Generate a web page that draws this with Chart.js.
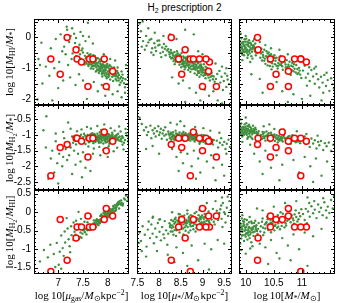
<!DOCTYPE html>
<html>
<head>
<meta charset="utf-8">
<script src="https://cdn.jsdelivr.net/npm/chart.js@4"></script>
<style>
  body { margin: 0; background: #fff; }
  #fig { position: relative; width: 339px; height: 303px; overflow: hidden; }
  #fig canvas { position: absolute; }
  .lab { position: absolute; font-family: "Liberation Serif", serif; font-size: 11px; color: #000;
         text-align: center; white-space: nowrap; height: 14px; line-height: 14px; }
  .lab sub { font-size: 70%; vertical-align: -0.3em; line-height: 0; }
  .lab sup { font-size: 70%; vertical-align: 0.5em; line-height: 0; }
  .lab sub sub { font-size: 80%; }
  .rot { transform: rotate(-90deg); }
  #title { position: absolute; left: 0; width: 369px; top: 2px; text-align: center;
           font-family: "Liberation Sans", sans-serif; font-size: 10px; }
  #title sub { font-size: 70%; vertical-align: -0.3em; line-height: 0; }
</style>
</head>
<body>
<div id="fig">
  <div id="title">H<sub>2</sub> prescription 2</div>
</div>
<script>
// observed galaxies (red circles), one entry per galaxy
const obsGas   = [6.85, 7.04, 7.18, 7.36, 7.38, 7.47, 7.60, 7.63, 7.70, 7.93, 7.97, 8.10];
const obsStar  = [8.72, 8.52, 8.28, 8.60, 8.45, 9.16, 9.32, 8.93, 9.08, 8.79, 9.00, 9.14];
const obsMass  = [10.98, 10.54, 10.21, 10.22, 10.44, 11.08, 10.44, 10.87, 10.98, 10.65, 10.76, 10.76];
const obsHI    = [-0.7, -1.2, 0.0, -0.4, -0.7, -0.8, -1.6, -0.7, -0.7, -0.7, -1.6, -1.1];
const obsH2    = [-2.3, -1.4, -1.3, -1.1, -1.1, -1.2, -1.7, -1.1, -1.1, -0.9, -1.5, -1.2];
const obsRatio = [-1.6, -0.2, -1.3, -0.7, -0.4, -0.4, -0.1, -0.4, -0.4, -0.2, 0.1, -0.1];

// model galaxies (green dots), x,y pairs read per panel
const modelGasHI = [
  7.63,-0.71, 7.81,-0.93, 7.47,-0.42, 8.02,-1.21, 7.92,-0.80, 7.71,-1.02, 8.14,-1.07, 7.56,-0.68, 7.88,-1.19, 8.07,-0.95,
  7.74,-0.60, 7.98,-1.33, 7.67,-0.88, 8.21,-1.31, 7.84,-0.72, 7.59,-0.51, 8.11,-1.42, 7.95,-1.04, 7.78,-0.83, 8.04,-1.13,
  7.52,-0.77, 7.86,-1.08, 8.18,-1.18, 7.69,-0.64, 7.93,-0.91, 8.09,-1.28, 7.76,-1.11, 7.61,-0.93, 8.26,-1.47, 7.83,-0.99,
  7.99,-0.86, 7.72,-0.79, 8.13,-0.98, 7.89,-1.27, 7.65,-0.55, 8.05,-1.37, 7.80,-0.68, 7.96,-1.15, 8.23,-1.22, 7.57,-0.85,
  7.91,-1.06, 7.70,-0.92, 8.00,-0.97, 8.16,-1.35, 7.85,-0.85, 7.62,-0.79, 8.08,-1.09, 7.77,-0.97, 7.94,-1.23, 8.31,-1.33,
  7.54,-0.60, 7.87,-0.94, 8.03,-1.02, 7.73,-0.71, 7.97,-0.99, 8.19,-1.09, 7.66,-1.01, 7.82,-1.16, 8.12,-1.23, 7.90,-0.87,
  7.60,-0.66, 8.06,-1.16, 7.79,-0.90, 8.27,-1.29, 7.95,-0.78, 7.68,-0.75, 7.84,-1.03, 8.10,-1.03, 7.75,-0.86, 8.01,-1.10,
  7.58,-0.73, 7.92,-1.11, 8.17,-1.26, 7.71,-0.58, 7.86,-0.77, 8.04,-0.90, 7.64,-0.87, 7.99,-1.20, 8.22,-1.40, 7.81,-1.06,
  7.50,-0.49, 7.97,-0.92, 8.33,-1.49, 7.89,-0.99, 7.76,-0.75, 8.15,-1.14, 7.53,-0.88, 8.36,-1.36, 7.44,-0.55, 7.41,-0.33,
  7.46,-0.70, 7.39,-0.48, 7.49,-0.36, 7.36,-0.61, 7.43,-0.24, 8.39,-1.52, 8.28,-1.11, 8.41,-1.28, 8.35,-1.62, 8.24,-1.55,
  8.20,-0.98, 8.30,-1.21, 7.32,-0.41, 7.34,-0.18, 7.29,-0.52,
  7.74,-0.82, 7.88,-0.90, 8.03,-1.25, 7.66,-0.71, 7.92,-1.17, 8.12,-1.11, 7.79,-1.04, 7.57,-0.64, 8.18,-1.40, 7.85,-0.95,
  7.70,-0.85, 7.96,-1.08, 8.07,-1.03, 7.62,-0.58, 7.83,-0.78, 8.21,-1.16, 7.93,-0.97, 7.77,-0.68, 8.00,-1.17, 7.68,-0.95,
  8.14,-1.26, 7.89,-1.13, 7.55,-0.81, 7.98,-0.89, 8.09,-1.18, 7.73,-0.93, 7.87,-1.01, 8.25,-1.34, 7.64,-0.66, 7.94,-1.05,
  7.81,-0.82, 8.05,-1.08, 7.71,-0.70, 7.91,-0.92, 8.16,-1.21, 7.59,-0.77, 8.01,-1.29, 7.84,-1.10, 7.75,-0.91, 8.11,-1.00,
  7.97,-1.27, 7.67,-0.82, 8.29,-1.41, 7.86,-0.89, 8.02,-0.94, 7.78,-1.08, 7.90,-0.74, 8.20,-1.27, 7.61,-0.87, 7.95,-0.94,
  6.95,-0.05, 7.05,0.10, 7.12,-0.30, 7.18,0.25, 7.22,-0.15, 7.25,0.05, 7.28,0.30, 7.32,0.12, 7.36,-0.02, 7.45,0.18,
  7.50,0.05, 7.55,-0.12, 7.62,0.02, 7.70,-0.20, 7.15,-0.55, 7.08,-0.45, 6.85,-0.35, 7.17,0.35, 7.60,0.48, 6.66,-0.17,
  6.60,-0.70, 6.68,-1.50, 6.75,-0.95, 6.82,-1.25, 6.88,-2.05, 6.92,-1.00, 7.00,-1.65, 7.02,-0.80, 7.10,-1.40, 7.20,-0.90,
  7.24,-1.30, 7.27,-0.70, 6.63,-0.90, 6.58,-2.02,
  7.35,-1.55, 7.42,-1.20, 7.50,-1.40, 7.58,-2.00, 7.65,-1.60, 7.72,-1.45, 7.80,-1.75, 7.88,-1.55, 7.95,-1.90, 8.02,-1.70,
  8.10,-1.85, 8.20,-1.75, 8.28,-1.95, 8.35,-1.80, 8.41,-1.10, 8.43,-0.95, 8.37,-0.90, 8.15,-0.75, 8.05,-0.70, 7.92,-0.55
];
const modelStarHI = [
  8.63,-0.84, 8.27,-0.41, 8.91,-1.12, 8.45,-0.72, 9.07,-0.95, 8.38,-0.58, 8.79,-1.03, 8.52,-0.51, 9.14,-1.31, 8.71,-0.70,
  8.33,-0.77, 8.96,-0.88, 8.58,-0.95, 9.02,-1.25, 8.24,-0.55, 8.85,-0.79, 8.47,-0.89, 9.19,-1.09, 8.66,-0.62, 8.41,-0.45,
  8.93,-1.28, 8.76,-0.91, 8.30,-0.66, 9.09,-1.14, 8.55,-0.74, 8.88,-1.01, 8.36,-0.87, 9.24,-1.36, 8.69,-0.99, 8.50,-0.61,
  8.98,-0.97, 8.21,-0.38, 8.82,-1.17, 8.61,-0.69, 9.11,-1.02, 8.44,-0.80, 8.74,-0.76, 9.05,-1.19, 8.29,-0.50, 8.90,-0.84,
  8.57,-0.86, 9.16,-1.21, 8.67,-1.06, 8.39,-0.68, 8.95,-1.07, 8.78,-0.68, 8.48,-0.56, 9.21,-1.15, 8.60,-0.92, 8.86,-0.95,
  8.32,-0.59, 9.03,-0.87, 8.72,-1.12, 8.54,-0.83, 8.97,-1.21, 8.25,-0.63, 8.83,-0.88, 8.43,-0.52, 9.13,-1.09, 8.65,-0.77,
  8.92,-0.98, 8.35,-0.48, 9.07,-1.33, 8.77,-0.83, 8.51,-0.97, 8.99,-1.03, 8.62,-0.65, 8.87,-1.22, 8.46,-0.66, 9.26,-1.27,
  8.70,-0.88, 9.00,-1.14, 8.56,-0.62, 8.80,-0.97, 8.37,-0.73, 9.17,-1.40, 8.68,-0.73, 8.94,-0.91, 8.42,-0.61, 9.10,-1.18,
  8.59,-1.04, 8.84,-0.72, 8.28,-0.69, 9.04,-1.05, 8.73,-0.95, 8.49,-0.77, 8.89,-1.09, 8.64,-0.90, 9.22,-1.25, 8.81,-0.86,
  8.62,-0.74, 8.81,-1.00, 8.47,-0.64, 8.95,-0.99, 8.33,-0.69, 8.73,-0.82, 9.04,-1.14, 8.56,-0.93, 8.89,-0.81, 8.40,-0.56,
  8.68,-0.91, 9.12,-1.23, 8.51,-0.72, 8.84,-1.05, 8.26,-0.49, 8.77,-0.73, 9.01,-0.99, 8.59,-0.80, 8.93,-1.15, 8.44,-0.69,
  8.70,-1.00, 9.08,-1.07, 8.36,-0.63, 8.86,-0.90, 8.64,-0.69, 8.98,-1.12, 8.53,-0.87, 9.15,-1.17, 8.79,-0.93, 8.31,-0.53,
  8.66,-0.83, 8.91,-0.96, 8.48,-0.81, 9.06,-1.22, 8.75,-1.04, 8.57,-0.66, 8.97,-0.93, 8.22,-0.47, 8.83,-0.98, 9.19,-1.28,
  8.61,-0.97, 8.45,-0.59, 8.90,-1.16, 8.72,-0.78, 9.10,-0.99, 8.38,-0.79, 8.80,-0.86, 8.55,-0.79, 9.00,-1.07, 8.67,-0.92,
  7.63,-0.12, 7.71,-0.27, 7.78,-0.08, 7.84,-0.35, 7.89,-0.19, 7.93,-0.44, 7.98,-0.26, 8.03,-0.51, 8.07,-0.33, 8.11,-0.21,
  8.15,-0.58, 8.18,-0.42, 7.67,-0.40, 7.75,-0.16, 7.82,-0.49, 7.96,-0.11, 8.05,-0.64, 8.13,-0.37, 8.01,-0.24, 7.87,-0.57,
  7.60,-0.30, 8.09,-0.47, 8.16,-0.29, 7.91,-0.33,
  9.31,-1.35, 9.36,-1.58, 9.34,-1.19, 9.41,-1.47, 9.44,-1.28, 9.47,-1.71, 9.49,-1.42, 9.52,-1.17, 9.55,-1.61, 9.58,-1.37,
  9.61,-1.52, 9.64,-1.83, 9.66,-1.45, 9.39,-1.09, 9.28,-1.44, 9.57,-1.25,
  7.55,0.45, 7.58,0.20, 7.62,0.52, 7.70,0.05, 7.75,0.30, 7.82,-0.05, 7.90,0.15, 8.00,-0.10, 8.10,0.05, 8.25,0.10,
  8.40,-0.05, 8.60,0.25, 8.80,0.10,
  8.30,-1.30, 8.45,-1.50, 8.55,-1.40, 8.70,-1.65, 8.85,-1.80, 8.95,-2.05, 9.05,-1.70, 9.15,-1.90, 9.25,-1.75, 9.35,-2.05,
  9.45,-2.15, 8.60,-2.10,
  9.00,-0.55, 9.15,-0.70, 9.30,-0.85, 9.45,-0.95, 9.55,-1.00, 8.90,-0.45
];
const modelMassHI = [
  9.91,-0.27, 10.03,-0.14, 9.95,-0.41, 10.12,-0.33, 9.89,-0.19, 10.07,-0.52, 9.98,-0.06, 10.16,-0.44, 9.93,-0.35, 10.01,-0.23,
  10.10,-0.61, 9.97,-0.48, 10.05,-0.29, 9.90,-0.12, 10.14,-0.25, 10.02,-0.39, 9.94,-0.56, 10.19,-0.37, 10.08,-0.17, 9.99,-0.31,
  10.11,-0.47, 9.92,-0.03, 10.04,-0.57, 10.17,-0.20, 9.96,-0.22, 10.09,-0.36, 10.00,-0.45, 10.13,-0.12, 9.90,-0.42, 10.06,-0.09,
  10.21,-0.51, 9.95,-0.15, 10.03,-0.66, 10.15,-0.31, 9.98,-0.38, 10.10,-0.24, 9.93,-0.50, 10.18,-0.58, 10.01,-0.04, 10.07,-0.41,
  10.23,-0.34, 9.89,-0.33, 10.12,-0.69, 9.97,-0.27, 10.05,-0.18, 10.20,-0.43, 9.91,0.12, 10.00,0.05, 9.94,-0.74, 10.08,-0.80,
  9.92,-0.37, 10.04,-0.24, 9.96,-0.45, 10.11,-0.39, 9.90,-0.25, 10.06,-0.46, 9.99,-0.14, 10.15,-0.37, 9.94,-0.30, 10.02,-0.50,
  10.09,-0.20, 9.97,-0.58, 10.13,-0.28, 10.00,-0.34, 9.93,-0.18, 10.18,-0.49, 10.07,-0.30, 9.91,-0.48, 10.22,-0.41, 10.03,-0.43,
  10.27,-0.52, 10.44,-0.71, 10.33,-0.40, 10.58,-0.92, 10.38,-0.63, 10.69,-0.81, 10.29,-0.75, 10.51,-0.58, 10.82,-1.07, 10.41,-0.49,
  10.63,-0.71, 10.35,-0.86, 10.74,-0.96, 10.47,-0.84, 10.92,-1.03, 10.55,-0.66, 10.31,-0.57, 10.66,-1.05, 10.86,-0.87, 10.43,-0.93,
  10.78,-0.79, 10.53,-0.76, 10.97,-1.21, 10.37,-0.45, 10.61,-0.88, 10.89,-1.14, 10.49,-0.62, 10.72,-1.13, 10.26,-0.66, 10.57,-1.01,
  10.84,-0.95, 10.40,-0.78, 10.68,-0.69, 10.95,-0.99, 10.46,-1.04, 10.80,-1.22, 10.34,-0.69, 10.64,-0.83, 10.99,-1.32, 10.52,-0.87,
  10.76,-0.89, 10.30,-0.48, 10.59,-0.73, 10.87,-1.02, 10.45,-0.55, 10.71,-0.98, 10.94,-1.16, 10.39,-0.91, 10.62,-0.60, 10.83,-0.83,
  10.56,-1.12, 10.77,-1.04, 10.48,-0.95, 10.90,-0.90, 10.65,-0.94, 10.28,-0.37, 10.73,-0.74, 10.42,-0.58,
  10.36,-0.61, 10.52,-0.67, 10.44,-0.80, 10.63,-0.90, 10.31,-0.64, 10.71,-0.88, 10.48,-0.70, 10.85,-1.10, 10.58,-0.83, 10.39,-0.52,
  10.77,-0.95, 10.92,-1.19, 10.55,-0.92, 10.67,-0.77, 10.33,-0.76, 10.81,-0.92, 10.47,-0.75, 10.96,-1.08, 10.60,-0.64, 10.74,-1.03,
  11.02,-1.08, 11.07,-1.31, 11.05,-0.92, 11.11,-1.18, 11.14,-1.42, 11.17,-1.06, 11.20,-1.27, 11.23,-1.51, 11.26,-1.19, 11.29,-1.36,
  11.31,-1.63, 11.34,-1.28, 11.37,-1.47, 11.40,-1.22, 11.43,-1.58, 11.46,-1.39, 11.49,-1.74, 11.52,-1.33, 11.55,-1.52, 11.57,-1.66,
  11.09,-1.57, 11.22,-1.01, 11.38,-1.80, 11.13,-0.97, 11.44,-1.15,
  10.25,-0.15, 10.35,-0.25, 10.45,-0.35, 10.60,-0.40, 10.75,-0.55, 10.90,-0.65, 11.05,-0.80, 11.25,-0.95, 10.15,-0.05,
  10.10,-1.20, 10.25,-1.35, 10.40,-1.55, 10.55,-1.45, 10.65,-1.75, 10.85,-1.85, 11.00,-2.00, 11.15,-1.90, 11.35,-2.05, 10.75,-2.10,
  10.30,-1.80
];
const modelGasH2 = [
  7.63,-1.07, 7.81,-1.19, 7.52,-0.96, 8.04,-1.12, 7.92,-0.98, 7.71,-1.26, 8.15,-1.03, 7.58,-1.15, 7.88,-1.09, 8.09,-0.93,
  7.74,-0.99, 7.99,-1.22, 7.67,-1.11, 8.22,-1.17, 7.84,-0.91, 7.55,-1.29, 8.12,-1.08, 7.95,-1.14, 7.78,-1.05, 8.01,-0.97,
  7.49,-1.18, 7.86,-1.24, 8.18,-1.00, 7.69,-0.94, 7.93,-1.16, 8.07,-1.21, 7.76,-1.13, 7.61,-1.03, 8.27,-1.12, 7.83,-1.02,
  7.97,-1.06, 7.72,-1.17, 8.13,-1.25, 7.89,-0.95, 7.65,-1.20, 8.05,-1.05, 7.80,-1.10, 7.96,-0.90, 8.24,-1.05, 7.57,-1.06,
  7.91,-1.27, 7.70,-1.00, 8.00,-1.13, 8.16,-1.18, 7.85,-1.07, 7.62,-1.23, 8.08,-1.01, 7.77,-1.18, 7.94,-1.03, 8.31,-1.09,
  7.54,-1.02, 7.87,-1.15, 8.03,-1.28, 7.73,-1.08, 7.98,-1.00, 8.19,-1.11, 7.66,-0.97, 7.82,-1.25, 8.11,-1.14, 7.90,-1.04,
  7.60,-1.14, 8.06,-1.08, 7.79,-0.96, 8.28,-1.21, 7.95,-1.19, 7.68,-1.09, 7.84,-1.13, 8.10,-0.99, 7.75,-1.22, 8.02,-1.04,
  7.59,-1.00, 7.92,-1.10, 8.17,-1.06, 7.71,-1.04, 7.86,-1.00, 8.04,-1.17, 7.64,-1.13, 7.99,-1.09, 8.21,-0.96, 7.81,-1.03,
  8.35,-1.16, 8.39,-1.02, 8.33,-1.25, 8.42,-1.10, 8.37,-0.94, 8.26,-0.89, 8.30,-1.31, 8.41,-1.20, 7.50,-1.07, 7.46,-0.99,
  7.68,-1.13, 7.82,-1.06, 7.95,-1.01, 8.08,-1.14, 7.75,-1.03, 7.89,-1.18, 8.14,-1.09, 7.60,-1.08, 8.01,-1.19, 7.79,-1.12,
  7.93,-1.07, 8.20,-1.14, 7.71,-1.11, 7.86,-0.98, 8.05,-1.10, 7.64,-1.00, 7.98,-1.14, 8.17,-1.02, 7.80,-1.16, 8.10,-1.06,
  7.73,-0.97, 7.91,-1.02, 8.03,-0.99, 7.66,-1.16, 8.25,-1.18, 7.85,-1.10, 7.96,-1.24, 8.12,-1.17, 7.77,-1.07, 8.29,-1.04,
  7.56,-1.12, 7.88,-1.05, 8.07,-1.09, 7.70,-1.20, 7.97,-1.11, 8.18,-1.12, 7.83,-1.21, 8.00,-1.06, 7.62,-1.05, 8.22,-1.08,
  7.47,-0.82, 7.58,-0.74, 7.66,-0.79, 7.79,-0.71, 7.87,-0.84, 7.93,-0.66, 8.06,-0.78, 8.14,-0.86, 8.23,-0.73, 8.36,-0.81,
  7.72,-1.43, 7.83,-1.38, 7.91,-1.47, 8.02,-1.36, 8.12,-1.52, 8.19,-1.41, 8.32,-1.46, 7.61,-1.37,
  7.35,-1.10, 7.38,-0.88, 7.36,-1.30, 7.42,-1.22, 7.44,-1.04,
  7.30,-1.25, 7.32,-1.50, 7.28,-1.05, 7.25,-1.40, 7.22,-1.65, 7.20,-1.30, 7.18,-1.80, 7.15,-1.45, 7.12,-1.10, 7.10,-1.70,
  7.08,-2.00, 7.05,-1.35, 7.02,-1.60, 6.98,-1.90, 6.95,-1.20, 6.92,-2.20, 6.88,-1.50, 6.85,-1.75, 6.80,-2.40, 6.75,-1.40,
  6.70,-0.85, 6.76,-0.40, 7.40,-1.60, 7.45,-1.85, 7.50,-1.55, 7.55,-2.05, 7.35,-1.95, 7.28,-2.25, 7.60,-1.75, 7.65,-2.15,
  7.48,-2.35, 7.70,-1.60, 7.85,-1.65, 8.00,-1.70, 7.00,-2.55, 6.95,-0.95, 7.10,-0.90, 7.25,-0.80, 7.20,-0.60
];
const modelStarH2 = [
  8.63,-1.04, 8.27,-0.93, 8.91,-1.17, 8.45,-1.09, 9.07,-1.08, 8.38,-0.86, 8.79,-1.14, 8.52,-0.97, 9.14,-1.26, 8.71,-1.01,
  8.33,-1.12, 8.96,-1.05, 8.58,-1.19, 9.02,-1.22, 8.24,-1.02, 8.85,-0.99, 8.47,-0.92, 9.19,-1.13, 8.66,-1.11, 8.41,-1.01,
  8.93,-1.28, 8.76,-0.94, 8.30,-0.98, 9.09,-1.16, 8.55,-1.05, 8.88,-1.09, 8.36,-1.17, 9.24,-1.30, 8.69,-0.96, 8.50,-1.13,
  8.98,-1.00, 8.21,-0.89, 8.82,-1.21, 8.61,-0.94, 9.11,-1.04, 8.44,-0.99, 8.74,-1.07, 9.05,-1.19, 8.29,-1.07, 8.90,-1.03,
  8.57,-1.01, 9.16,-1.18, 8.67,-1.16, 8.39,-0.95, 8.95,-1.12, 8.78,-1.02, 8.48,-1.06, 9.21,-1.24, 8.60,-1.08, 8.86,-1.14,
  8.32,-0.91, 9.03,-1.01, 8.72,-1.18, 8.54,-0.95, 8.97,-1.20, 8.25,-1.10, 8.83,-1.06, 8.43,-1.14, 9.13,-1.12, 8.65,-0.99,
  8.92,-1.07, 8.35,-1.03, 9.07,-1.27, 8.77,-1.10, 8.51,-1.16, 8.99,-1.09, 8.62,-1.12, 8.87,-0.97, 8.46,-1.03, 9.26,-1.16,
  8.70,-1.05, 9.00,-1.15, 8.56,-0.90, 8.80,-1.08, 8.37,-1.06, 9.17,-1.07, 8.68,-1.03, 8.94,-1.23, 8.42,-0.97, 9.10,-1.21,
  8.59,-1.13, 8.84,-1.11, 8.28,-1.15, 9.04,-1.11, 8.73,-0.98,
  8.64,-1.08, 8.81,-1.13, 8.47,-1.00, 8.95,-1.08, 8.33,-1.00, 8.73,-1.03, 9.04,-1.15, 8.56,-1.10, 8.89,-1.12, 8.40,-1.07,
  8.68,-1.09, 9.12,-1.16, 8.51,-1.04, 8.84,-1.03, 8.26,-0.97, 8.77,-1.14, 9.01,-1.09, 8.59,-0.98, 8.93,-1.14, 8.44,-1.10,
  8.70,-1.12, 9.08,-1.03, 8.36,-1.09, 8.86,-1.06, 8.62,-1.05, 8.98,-1.15, 8.53,-1.01, 9.15,-1.09, 8.79,-1.06, 8.31,-1.04,
  8.66,-1.06, 8.91,-1.11, 8.48,-1.11, 9.06,-1.13, 8.75,-1.12, 8.57,-1.07, 8.97,-1.03, 8.22,-0.96, 8.83,-1.16, 9.19,-1.20,
  7.55,-0.45, 7.60,-0.65, 7.65,-0.85, 7.70,-0.75, 7.72,-1.00, 7.75,-0.90, 7.80,-0.70, 7.82,-1.10, 7.85,-0.85, 7.88,-0.95,
  7.90,-0.78, 7.92,-1.05, 7.95,-0.88, 7.98,-0.72, 8.00,-1.00, 8.02,-0.92, 8.04,-0.80, 8.06,-1.12, 8.08,-0.95, 8.10,-0.85,
  8.12,-1.02, 8.14,-0.75, 8.16,-0.98, 8.18,-1.15, 7.70,-1.45, 7.85,-1.35, 8.00,-1.60,
  9.33,-1.18, 9.36,-1.40, 9.40,-1.25, 9.43,-1.10, 9.46,-1.32, 9.50,-1.22, 9.53,-1.45, 9.56,-1.28, 9.60,-1.15, 9.63,-1.38,
  8.41,-0.66, 8.58,-0.71, 8.83,-0.74, 9.02,-0.78, 9.18,-0.86, 9.39,-0.93, 8.26,-0.61, 8.49,-0.56,
  8.30,-1.45, 8.40,-1.70, 8.50,-1.55, 8.55,-1.90, 8.65,-1.60, 8.75,-2.00, 8.80,-1.50, 8.90,-1.75, 8.95,-2.20, 9.05,-1.55,
  9.10,-1.85, 9.20,-1.65, 9.25,-2.05, 9.35,-1.75, 9.45,-1.95, 9.50,-2.30, 9.55,-1.60, 8.85,-2.40, 9.30,-2.45, 8.45,-2.15
];
const modelMassH2 = [
  9.91,-0.83, 10.03,-0.71, 9.95,-0.97, 10.12,-0.89, 9.89,-0.76, 10.07,-1.04, 9.98,-0.66, 10.16,-0.94, 9.93,-0.88, 10.01,-0.79,
  10.10,-1.08, 9.97,-0.99, 10.05,-0.84, 9.90,-0.69, 10.14,-0.81, 10.02,-0.92, 9.94,-1.05, 10.19,-0.90, 10.08,-0.74, 9.99,-0.86,
  10.11,-0.98, 9.92,-0.63, 10.04,-1.07, 10.17,-0.77, 9.96,-0.80, 10.09,-0.91, 10.00,-0.95, 10.13,-0.70, 9.90,-0.93, 10.06,-0.67,
  10.21,-1.01, 9.95,-0.74, 10.03,-1.12, 10.15,-0.85, 9.98,-0.90, 10.10,-0.79, 9.93,-1.00, 10.18,-1.06, 10.01,-0.62, 10.07,-0.93,
  10.23,-0.88, 9.89,-0.89, 10.12,-1.13, 9.97,-0.82, 10.05,-0.73, 10.20,-0.96, 9.91,-0.50, 10.00,-0.44, 9.94,-1.22, 10.08,-1.31,
  9.92,-0.87, 10.04,-0.81, 9.96,-0.92, 10.11,-0.86, 9.90,-0.80, 10.06,-0.96, 9.99,-0.74, 10.15,-0.89, 9.94,-0.84, 10.02,-0.99,
  10.09,-0.83, 9.97,-0.91, 10.13,-0.93, 10.00,-0.83, 9.93,-0.77, 10.18,-0.82, 10.07,-0.88, 9.91,-0.96, 10.22,-0.94, 10.03,-0.87,
  10.27,-1.00, 10.44,-1.07, 10.33,-0.92, 10.58,-1.15, 10.38,-1.04, 10.69,-1.09, 10.29,-1.12, 10.51,-0.98, 10.82,-1.19, 10.41,-0.94,
  10.63,-1.06, 10.35,-1.18, 10.74,-1.14, 10.47,-1.11, 10.92,-1.16, 10.55,-1.01, 10.31,-0.97, 10.66,-1.21, 10.86,-1.07, 10.43,-1.20,
  10.78,-1.03, 10.53,-1.08, 10.97,-1.26, 10.37,-0.89, 10.61,-1.13, 10.89,-1.23, 10.49,-1.02, 10.72,-1.25, 10.26,-1.08, 10.57,-1.24,
  10.84,-1.12, 10.40,-1.13, 10.68,-1.00, 10.95,-1.09, 10.46,-0.99, 10.80,-1.28, 10.34,-1.05, 10.64,-1.17, 10.99,-1.15, 10.52,-1.19,
  10.76,-1.05, 10.30,-0.90, 10.59,-1.03, 10.87,-1.18, 10.45,-0.93, 10.71,-1.11, 10.94,-1.20, 10.39,-1.16, 10.62,-0.96, 10.83,-1.01,
  10.56,-1.12, 10.77,-1.20, 10.48,-1.06, 10.90,-1.10, 10.65,-1.10,
  10.36,-1.02, 10.52,-1.05, 10.44,-1.13, 10.63,-1.11, 10.31,-1.05, 10.71,-1.16, 10.48,-1.09, 10.85,-1.14, 10.58,-1.07, 10.39,-0.98,
  10.77,-1.15, 10.92,-1.21, 10.55,-1.12, 10.67,-1.03, 10.33,-1.10, 10.81,-1.09, 10.47,-1.02, 10.96,-1.13, 10.60,-1.18, 10.74,-1.08,
  11.02,-1.14, 11.07,-1.29, 11.05,-1.05, 11.11,-1.21, 11.14,-1.38, 11.17,-1.11, 11.20,-1.27, 11.23,-1.17, 11.26,-1.43, 11.29,-1.22,
  11.31,-1.33, 11.34,-1.19, 11.38,-1.48, 11.41,-1.26, 11.44,-1.36, 11.48,-1.24, 11.52,-1.51, 11.56,-1.31,
  10.32,-0.72, 10.51,-0.81, 10.68,-0.83, 10.91,-0.88, 11.08,-0.97, 11.28,-1.02, 10.42,-0.66,
  10.15,-1.60, 10.25,-1.85, 10.35,-1.50, 10.45,-2.05, 10.55,-1.65, 10.65,-1.95, 10.75,-1.55, 10.85,-1.80, 10.95,-2.20, 11.05,-1.70,
  11.15,-2.00, 11.25,-1.75, 11.35,-2.30, 11.45,-1.85, 11.55,-2.10, 10.60,-2.45, 11.20,-2.50, 10.30,-2.25
];
const modelGasRatio = [
  7.63,-0.43, 7.81,-0.31, 7.52,-0.49, 8.04,-0.04, 7.92,-0.03, 7.71,-0.37, 8.15,0.03, 7.58,-0.46, 7.88,-0.09, 8.09,-0.01,
  7.74,-0.33, 7.99,0.07, 7.67,-0.47, 8.22,0.23, 7.84,-0.24, 7.55,-0.45, 8.12,0.03, 7.95,-0.08, 7.78,-0.19, 8.01,-0.13,
  7.49,-0.58, 7.86,-0.26, 8.18,0.21, 7.69,-0.41, 7.93,-0.02, 8.07,0.01, 7.76,-0.39, 7.61,-0.43, 8.27,0.32, 7.83,-0.28,
  7.97,-0.09, 7.72,-0.22, 8.13,0.01, 7.89,-0.12, 7.65,-0.45, 8.05,0.08, 7.80,-0.31, 7.96,-0.07, 8.24,0.30, 7.57,-0.60,
  7.91,-0.13, 7.70,-0.43, 8.00,0.02, 8.16,0.09, 7.85,-0.10, 7.62,-0.47, 8.08,-0.05, 7.77,-0.26, 7.94,-0.03, 8.31,0.23,
  7.54,-0.54, 7.87,-0.06, 8.03,-0.09, 7.73,-0.29, 7.98,-0.10, 8.19,0.23, 7.66,-0.45, 7.82,-0.22, 8.11,0.16, 7.90,-0.25,
  7.60,-0.46, 8.06,-0.05, 7.79,-0.21, 8.28,0.21, 7.95,0.00, 7.68,-0.40, 7.84,-0.30, 8.10,0.09, 7.75,-0.23, 8.02,-0.08,
  7.59,-0.49, 7.92,-0.01, 8.17,0.06, 7.71,-0.31, 7.86,-0.22, 8.04,0.07, 7.64,-0.48, 7.99,-0.04, 8.21,0.27, 7.81,-0.35,
  8.35,0.34, 8.39,0.30, 8.33,0.37, 8.42,0.36, 8.37,0.45, 8.26,0.21, 8.30,0.18, 8.41,0.42, 7.45,-0.55, 7.42,-0.72,
  7.38,-0.71, 7.35,-0.61, 7.47,-0.69, 7.33,-0.71, 7.44,-0.67, 7.51,-0.49, 7.40,-0.73, 7.31,-0.75, 8.14,0.19, 8.23,0.10,
  7.66,-0.40, 7.74,-0.31, 7.82,-0.24, 7.90,-0.14, 7.98,-0.06, 8.06,0.03, 8.14,0.12, 7.70,-0.36, 7.78,-0.25, 7.86,-0.19,
  7.94,-0.10, 8.02,0.00, 8.10,0.06, 8.18,0.14, 7.68,-0.38, 7.76,-0.32, 7.84,-0.21, 7.92,-0.11, 8.00,-0.03, 8.08,0.07,
  8.16,0.13, 8.24,0.24, 7.72,-0.35, 7.80,-0.23, 7.88,-0.17, 7.96,-0.04, 8.04,0.02, 8.12,0.10, 8.20,0.19, 8.28,0.26,
  6.71,-1.02, 6.79,-1.22, 6.84,-0.88, 6.91,-1.13, 6.97,-0.83, 7.03,-1.07, 7.06,-0.63, 7.09,-0.97, 7.13,-0.52, 7.14,-0.82,
  7.19,-0.44, 7.21,-0.73, 7.23,-0.92, 7.26,-0.38, 7.27,-0.62, 7.31,-0.28, 7.33,-0.53, 7.36,-0.23, 7.37,-0.47, 7.43,-0.33,
  7.46,-0.18, 7.49,-0.40, 7.53,-0.26, 7.56,-0.14, 7.59,-0.27, 7.66,-0.11, 7.11,-1.18, 7.01,-1.42, 7.24,-1.08, 6.94,-1.48,
  7.06,-1.53, 6.63,-1.33, 7.17,-0.16, 7.41,0.01
];
const modelStarRatio = [
  8.63,-0.21, 8.27,-0.52, 8.91,-0.08, 8.45,-0.37, 9.07,-0.31, 8.38,-0.15, 8.79,-0.46, 8.52,-0.28, 9.14,0.02, 8.71,-0.33,
  8.33,-0.61, 8.96,-0.19, 8.58,-0.09, 9.02,-0.42, 8.24,-0.30, 8.85,-0.25, 8.47,-0.55, 9.19,-0.14, 8.66,-0.40, 8.41,-0.22,
  8.93,0.06, 8.76,-0.18, 8.30,-0.36, 9.09,-0.23, 8.55,-0.44, 8.88,-0.35, 8.36,-0.48, 9.24,0.09, 8.69,-0.12, 8.50,-0.31,
  8.98,-0.27, 8.21,-0.58, 8.82,-0.03, 8.61,-0.50, 9.11,-0.11, 8.44,-0.26, 8.74,-0.29, 9.05,-0.05, 8.29,-0.43, 8.90,-0.39,
  8.57,-0.17, 9.16,-0.28, 8.67,-0.24, 8.39,-0.64, 8.95,-0.13, 8.78,-0.37, 8.48,-0.06, 9.21,-0.20, 8.60,-0.29, 8.86,0.01,
  8.32,-0.24, 9.03,-0.18, 8.72,-0.49, 8.54,-0.20, 8.97,-0.33, 8.25,-0.40, 8.83,-0.21, 8.43,-0.45, 9.13,-0.35, 8.65,-0.04,
  8.92,-0.24, 8.35,-0.31, 9.07,0.11, 8.77,-0.27, 8.51,-0.39, 8.99,-0.09, 8.62,-0.36, 8.87,-0.16, 8.46,-0.14, 9.26,-0.26,
  8.70,-0.20, 9.00,-0.37, 8.56,-0.60, 8.80,-0.31, 8.37,-0.27, 9.17,-0.07, 8.68,-0.55, 8.94,-0.44, 8.42,-0.33, 9.10,-0.16,
  8.59,-0.25, 8.84,-0.52, 8.28,-0.21, 9.04,-0.26, 8.73,-0.08, 9.30,-0.12, 9.33,0.04, 9.36,-0.21, 9.28,-0.33, 9.39,-0.02,
  8.64,-0.30, 8.81,-0.14, 8.47,-0.29, 8.95,-0.30, 8.33,-0.40, 8.73,-0.38, 9.04,-0.13, 8.56,-0.33, 8.89,-0.20, 8.40,-0.49,
  8.68,-0.16, 9.12,-0.22, 8.51,-0.45, 8.84,-0.33, 8.26,-0.35, 8.77,-0.10, 9.01,-0.29, 8.59,-0.41, 8.93,-0.17, 8.44,-0.35,
  8.70,-0.27, 9.08,-0.36, 8.36,-0.19, 8.86,-0.43, 8.62,-0.26, 8.98,-0.14, 8.53,-0.11, 9.15,-0.24, 8.79,-0.22, 8.31,-0.52,
  7.55,-0.55, 7.62,-0.38, 7.58,-0.78, 7.67,-0.61, 7.71,-0.93, 7.74,-0.47, 7.79,-0.70, 7.82,-0.33, 7.85,-0.58, 7.88,-0.84,
  7.91,-0.44, 7.94,-0.67, 7.97,-0.29, 8.01,-0.53, 8.04,-0.76, 8.07,-0.40, 8.10,-0.60, 8.13,-0.24, 8.16,-0.49, 8.19,-0.88,
  8.02,-0.19, 7.86,-0.12, 7.53,-0.83, 8.12,-0.70, 7.76,-0.25,
  9.41,0.08, 9.44,-0.18, 9.47,0.25, 9.50,0.00, 9.53,-0.28, 9.56,0.12, 9.59,-0.10, 9.62,0.30, 9.65,0.05, 9.46,-0.40,
  9.58,0.42, 9.43,0.18, 9.52,-0.05,
  8.45,-0.05, 8.65,0.05, 8.95,0.15, 9.10,0.25, 9.30,0.30, 9.45,0.40, 8.30,0.00, 8.00,-0.20, 7.85,-0.15,
  7.70,-1.20, 7.95,-1.05, 8.20,-1.15, 8.40,-0.95, 8.55,-1.10, 8.75,-0.90, 8.90,-1.30, 9.05,-0.85, 9.20,-1.00, 9.35,-0.75,
  9.50,-0.85, 8.65,-1.45, 9.15,-1.55, 8.35,-1.35, 7.60,-1.05
];
const modelMassRatio = [
  9.91,-0.47, 10.03,-0.33, 9.95,-0.62, 10.12,-0.41, 9.89,-0.28, 10.07,-0.70, 9.98,-0.19, 10.16,-0.52, 9.93,-0.39, 10.01,-0.57,
  10.10,-0.25, 9.97,-0.78, 10.05,-0.44, 9.90,-0.36, 10.14,-0.64, 10.02,-0.21, 9.94,-0.53, 10.19,-0.35, 10.08,-0.60, 9.99,-0.42,
  10.11,-0.30, 9.92,-0.71, 10.04,-0.49, 10.17,-0.23, 9.96,-0.31, 10.09,-0.55, 10.00,-0.66, 10.13,-0.45, 9.90,-0.85, 10.06,-0.27,
  10.21,-0.59, 9.95,-0.24, 10.03,-0.74, 10.15,-0.38, 9.98,-0.50, 10.10,-0.81, 9.93,-0.17, 10.18,-0.46, 10.01,-0.40, 10.07,-0.13,
  10.23,-0.29, 9.89,-0.58, 10.12,-0.92, 9.97,-0.35, 10.05,-0.63, 10.20,-0.51, 9.92,-1.02, 10.00,-1.12, 10.08,-0.98, 9.94,-0.08,
  9.92,-0.42, 10.04,-0.55, 9.96,-0.37, 10.11,-0.48, 9.90,-0.52, 10.06,-0.40, 9.99,-0.61, 10.15,-0.29, 9.94,-0.46, 10.02,-0.33,
  10.09,-0.44, 9.97,-0.26, 10.13,-0.54, 10.00,-0.48, 9.93,-0.63, 10.18,-0.40, 10.07,-0.52, 9.91,-0.31, 10.22,-0.45, 10.03,-0.58,
  10.27,-0.38, 10.44,-0.21, 10.33,-0.55, 10.58,-0.30, 10.38,-0.12, 10.69,-0.41, 10.29,-0.26, 10.51,-0.49, 10.82,-0.09, 10.41,-0.33,
  10.63,-0.18, 10.35,-0.44, 10.74,-0.23, 10.47,-0.06, 10.92,-0.25, 10.55,-0.15, 10.31,-0.62, 10.66,-0.04, 10.86,-0.31, 10.43,-0.40,
  10.78,0.03, 10.53,-0.34, 10.97,-0.11, 10.37,-0.27, 10.61,-0.46, 10.89,0.05, 10.49,-0.19, 10.72,-0.36, 10.26,-0.52, 10.57,-0.08,
  10.84,-0.17, 10.40,-0.48, 10.68,-0.22, 10.95,-0.02, 10.46,-0.29, 10.80,-0.27, 10.34,-0.33, 10.64,-0.37, 10.99,0.08, 10.52,-0.25,
  10.76,-0.13, 10.30,-0.17, 10.59,-0.21, 10.87,-0.06, 10.45,-0.54, 10.71,-0.10, 10.94,-0.19, 10.39,-0.36, 10.62,0.00, 10.83,-0.38,
  10.56,-0.42, 10.77,-0.20, 10.48,-0.31, 10.90,-0.13, 10.65,-0.28,
  10.36,-0.30, 10.52,-0.37, 10.44,-0.29, 10.63,-0.27, 10.31,-0.42, 10.71,-0.30, 10.48,-0.24, 10.85,-0.22, 10.58,-0.39, 10.39,-0.19,
  11.02,-0.05, 11.07,0.09, 11.05,-0.21, 11.11,0.02, 11.14,-0.12, 11.17,0.16, 11.20,-0.03, 11.23,0.07, 11.26,-0.16, 11.29,0.21,
  11.31,0.01, 11.34,0.12, 11.37,-0.08, 11.40,0.27, 11.43,0.05, 11.46,0.15, 11.49,-0.02, 11.52,0.33, 11.55,0.10, 11.57,0.44,
  11.09,-0.30, 11.22,0.30, 11.38,0.38, 11.13,0.25, 11.44,-0.15,
  10.30,0.05, 10.50,0.15, 10.70,0.25, 10.90,0.30, 11.10,0.40, 10.20,0.10,
  10.25,-0.85, 10.35,-0.95, 10.45,-0.75, 10.55,-1.10, 10.65,-0.70, 10.75,-0.90, 10.85,-0.60, 10.95,-1.00, 11.05,-0.55, 11.20,-0.65,
  11.35,-0.45, 10.60,-1.25, 10.40,-1.40, 10.80,-1.30, 11.10,-1.45
];

// axes
const xRanges = [[6.51, 8.43], [7.49, 9.68], [9.88, 11.59]];
const yRanges = [[-2.2, 0.6], [-2.76, -0.04], [-1.67, 0.6]];
const xTickLabels = [[7, 7.5, 8], [7.5, 8, 8.5, 9, 9.5], [10, 10.5, 11]];
const yTickLabels = [[0, -1, -2], [-0.5, -1, -1.5, -2, -2.5], [0.5, 0, -0.5, -1, -1.5]];

const xTitles = [
  'log&thinsp;10[<i>μ</i><sub>gas</sub>/<i>M</i><sub>⊙</sub>kpc<sup>−2</sup>]',
  'log&thinsp;10[<i>μ</i><sub>*</sub>/<i>M</i><sub>⊙</sub>kpc<sup>−2</sup>]',
  'log&thinsp;10[<i>M</i><sub>*</sub>/<i>M</i><sub>⊙</sub>]'
];
const yTitles = [
  'log&thinsp;10[<i>M</i><sub>HI</sub>/<i>M</i><sub>*</sub>]',
  'log&thinsp;10[<i>M</i><sub>H<sub>2</sub></sub>/<i>M</i><sub>*</sub>]',
  'log&thinsp;10[<i>M</i><sub>H<sub>2</sub></sub>/<i>M</i><sub>HI</sub>]'
];

const obsX = [obsGas, obsStar, obsMass];
const obsY = [obsHI, obsH2, obsRatio];
const models = [
  [modelGasHI, modelStarHI, modelMassHI],
  [modelGasH2, modelStarH2, modelMassH2],
  [modelGasRatio, modelStarRatio, modelMassRatio]
];

// panel boxes in page pixels
const colLeft = [34, 137, 239], colWidth = [95, 95, 96];
const rowTop = [19, 105, 190], rowHeight = [86, 85, 84];
const M = 40;

function pairs(flat) {
  const out = [];
  for (let i = 0; i < flat.length; i += 2) out.push({ x: flat[i], y: flat[i + 1] });
  return out;
}

// box, inward ticks on all four sides, and tick labels on the outer panels
const frameTicks = {
  id: 'frameTicks',
  afterDatasetsDraw(chart, args, opts) {
    const { ctx, chartArea: a, scales: { x, y } } = chart;
    ctx.save();
    ctx.strokeStyle = '#000';
    ctx.lineWidth = 1;
    ctx.beginPath();
    for (let k = Math.ceil(x.min * 10); k <= Math.floor(x.max * 10); k++) {
      const p = Math.round(x.getPixelForValue(k / 10)) + 0.5;
      const len = k % 5 === 0 ? 4 : 2;
      ctx.moveTo(p, a.bottom); ctx.lineTo(p, a.bottom - len);
      ctx.moveTo(p, a.top); ctx.lineTo(p, a.top + len);
    }
    for (let k = Math.ceil(y.min * 10); k <= Math.floor(y.max * 10); k++) {
      const p = Math.round(y.getPixelForValue(k / 10)) + 0.5;
      const len = k % 5 === 0 ? 4 : 2;
      ctx.moveTo(a.left, p); ctx.lineTo(a.left + len, p);
      ctx.moveTo(a.right, p); ctx.lineTo(a.right - len, p);
    }
    ctx.stroke();
    ctx.strokeRect(a.left + 0.5, a.top + 0.5, a.width - 1, a.height - 1);

    ctx.fillStyle = '#000';
    ctx.font = '10px "Liberation Sans", Arial, sans-serif';
    if (opts.xLabels) {
      ctx.textAlign = 'center';
      ctx.textBaseline = 'top';
      opts.xLabels.forEach(v => ctx.fillText(String(v), x.getPixelForValue(v), a.bottom + 4));
    }
    if (opts.yLabels) {
      ctx.textAlign = 'right';
      ctx.textBaseline = 'middle';
      opts.yLabels.forEach(v => ctx.fillText(String(v), a.left - 3, y.getPixelForValue(v)));
    }
    ctx.restore();
  }
};

const fig = document.getElementById('fig');

for (let r = 0; r < 3; r++) {
  for (let c = 0; c < 3; c++) {
    const canvas = document.createElement('canvas');
    canvas.width = colWidth[c] + 2 * M;
    canvas.height = rowHeight[r] + 2 * M;
    canvas.style.left = (colLeft[c] - M) + 'px';
    canvas.style.top = (rowTop[r] - M) + 'px';
    fig.appendChild(canvas);

    new Chart(canvas, {
      type: 'scatter',
      data: {
        datasets: [
          {
            data: obsX[c].map((v, i) => ({ x: v, y: obsY[r][i] })),
            pointRadius: 3,
            borderWidth: 1.5,
            borderColor: '#ff0000',
            backgroundColor: '#ffffff'
          },
          {
            data: pairs(models[r][c]),
            pointRadius: 1.2,
            borderWidth: 0,
            backgroundColor: '#3f8f3f'
          }
        ]
      },
      options: {
        responsive: false,
        animation: false,
        devicePixelRatio: 1,
        events: [],
        layout: { padding: M, autoPadding: false },
        plugins: {
          legend: { display: false },
          tooltip: { enabled: false },
          frameTicks: {
            xLabels: r === 2 ? xTickLabels[c] : null,
            yLabels: c === 0 ? yTickLabels[r] : null
          }
        },
        scales: {
          x: { type: 'linear', min: xRanges[c][0], max: xRanges[c][1], display: false },
          y: { type: 'linear', min: yRanges[r][0], max: yRanges[r][1], display: false }
        }
      },
      plugins: [frameTicks]
    });
  }
}

// axis titles as html text so the subscripts work
for (let c = 0; c < 3; c++) {
  const d = document.createElement('div');
  d.className = 'lab';
  d.innerHTML = xTitles[c];
  d.style.left = (colLeft[c] + colWidth[c] / 2 - 70) + 'px';
  d.style.width = '140px';
  d.style.top = '288px';
  fig.appendChild(d);
}
for (let r = 0; r < 3; r++) {
  const d = document.createElement('div');
  d.className = 'lab rot';
  d.innerHTML = yTitles[r];
  d.style.left = (9 - 60) + 'px';
  d.style.width = '120px';
  d.style.top = (rowTop[r] + rowHeight[r] / 2 - 7) + 'px';
  fig.appendChild(d);
}
</script>
</body>
</html>
